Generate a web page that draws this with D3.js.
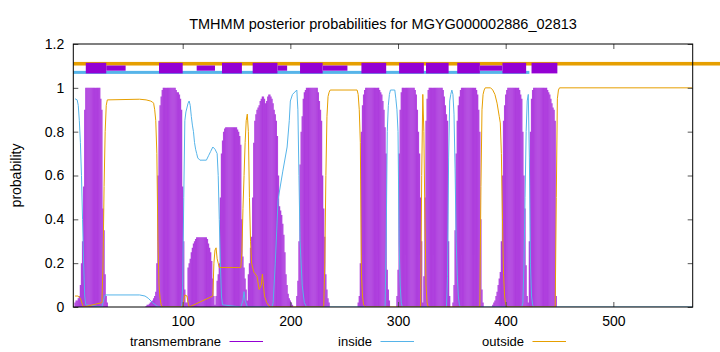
<!DOCTYPE html>
<html>
<head>
<meta charset="utf-8">
<script src="https://cdn.jsdelivr.net/npm/d3@7"></script>
<style>
  body { margin: 0; background: #fff; }
  svg { display: block; font-family: "Liberation Sans", Arial, sans-serif; }
</style>
</head>
<body>
<svg id="chart" width="720" height="352"></svg>
<script>
const title = 'TMHMM posterior probabilities for MGYG000002886_02813';
const seqLength = 573;
const xTicks = [100, 200, 300, 400, 500];
const yTicks = [0, 0.2, 0.4, 0.6, 0.8, 1, 1.2];
const seriesNames = ['transmembrane', 'inside', 'outside'];

// transmembrane posterior, one value per residue, given per helix as [first residue, values]
const tmPeaks = [
    [0, [0.02, 0.03, 0.03, 0.04, 0.05, 0.1, 0.2, 0.3, 0.55, 0.9, 1, 1, 1, 1, 1, 1, 1, 1, 1, 1, 1, 1, 1, 1, 0.95, 0.9, 0.45, 0.35, 0.15, 0.05, 0.02]],
    [66, [0.005, 0.01, 0.01, 0.015, 0.02, 0.025, 0.03, 0.04, 0.05, 0.07, 0.2, 0.6, 0.85, 0.92, 0.96, 0.99, 1, 1, 1, 1, 1, 1, 1, 1, 1, 1, 1, 1, 0.99, 0.98, 0.98, 0.97, 0.95, 0.9, 0.55, 0.3, 0.08, 0.02]],
    [104, [0.02, 0.18, 0.2, 0.22, 0.25, 0.27, 0.29, 0.3, 0.31, 0.318, 0.318, 0.318, 0.318, 0.318, 0.318, 0.318, 0.318, 0.318, 0.318, 0.31, 0.29, 0.27, 0.25, 0.21, 0.13, 0.05, 0.01]],
    [131, [0.05, 0.12, 0.15, 0.2, 0.5, 0.7, 0.76, 0.8, 0.815, 0.82, 0.82, 0.82, 0.82, 0.82, 0.82, 0.82, 0.82, 0.82, 0.82, 0.82, 0.81, 0.8, 0.78, 0.74, 0.4, 0.23, 0.18, 0.13, 0.08, 0.03]],
    [161, [0.15, 0.2, 0.27, 0.32, 0.5, 0.75, 0.85, 0.88, 0.9, 0.91, 0.92, 0.94, 0.95, 0.96, 0.96, 0.95, 0.93, 0.94, 0.96, 0.97, 0.97, 0.96, 0.95, 0.93, 0.9, 0.88, 0.85, 0.78, 0.6, 0.46, 0.44, 0.42, 0.38, 0.33, 0.25, 0.15, 0.1, 0.06, 0.04, 0.03, 0.02, 0.01]],
    [206, [0.05, 0.12, 0.3, 0.65, 0.8, 0.87, 0.95, 0.98, 0.99, 1, 1, 1, 1, 1, 1, 1, 1, 1, 1, 1, 0.98, 0.94, 0.9, 0.85, 0.6, 0.45, 0.32, 0.15, 0.08, 0.04, 0.02]],
    [263, [0.02, 0.05, 0.2, 0.8, 0.92, 0.97, 0.99, 1, 1, 1, 1, 1, 1, 1, 1, 1, 1, 1, 1, 1, 0.99, 0.98, 0.97, 0.94, 0.9, 0.82, 0.7, 0.17, 0.08, 0.03]],
    [299, [0.05, 0.17, 0.7, 0.9, 0.98, 1, 1, 1, 1, 1, 1, 1, 1, 1, 1, 1, 1, 0.99, 0.97, 0.9, 0.8, 0.7, 0.5, 0.3, 0.02]],
    [324, [0.14, 0.5, 0.85, 0.95, 0.99, 1, 1, 1, 1, 1, 1, 1, 1, 1, 1, 1, 1, 1, 0.99, 0.96, 0.92, 0.88, 0.85, 0.3, 0.05]],
    [351, [0.02, 0.1, 0.35, 0.7, 0.85, 0.92, 0.96, 0.99, 1, 1, 1, 1, 1, 1, 1, 1, 1, 1, 1, 1, 1, 1, 0.99, 0.97, 0.9, 0.8, 0.4, 0.08, 0.02]],
    [388, [0.01, 0.02, 0.03, 0.05, 0.07, 0.1, 0.13, 0.16, 0.3, 0.6, 0.85, 0.92, 0.97, 0.99, 1, 1, 1, 1, 1, 1, 1, 1, 1, 1, 1, 0.99, 0.97, 0.95, 0.8, 0.6, 0.45, 0.19, 0.05]],
    [421, [0.02, 0.3, 0.8, 0.95, 0.99, 1, 1, 1, 1, 1, 1, 1, 1, 1, 1, 1, 1, 1, 0.99, 0.98, 0.97, 0.95, 0.93, 0.91, 0.9, 0.85, 0.05]]
];

// inside / outside posterior, [residue, probability]
const insidePts = [
    [0, 0.95], [2, 0.945], [3, 0.92], [4, 0.85], [5, 0.75], [6, 0.6], [7, 0.4], [8, 0.2], [9, 0.05], [10, 0.01],
    [25, 0], [26, 0.02], [27, 0.04], [28, 0.055], [60, 0.055], [65, 0.05], [68, 0.04], [72, 0.02], [76, 0.005], [78, 0],
    [99, 0], [100, 0.1], [101, 0.5], [102, 0.85], [103, 0.89], [105, 0.93], [106, 0.94], [107, 0.92], [108, 0.87],
    [109, 0.83], [110, 0.8], [111, 0.75], [112, 0.72], [113, 0.7], [114, 0.68], [116, 0.67], [122, 0.67], [124, 0.69],
    [126, 0.71], [128, 0.73], [130, 0.72], [132, 0.7], [133, 0.6], [134, 0.4], [135, 0.2], [136, 0.05], [137, 0.01],
    [154, 0], [156, 0.03], [157, 0.07], [158, 0.03], [160, 0], [183, 0], [184, 0.02], [186, 0.2], [188.6, 0.49],
    [193, 0.62], [197, 0.73], [199, 0.85], [200, 0.94], [202, 0.97], [206, 0.99], [207, 0.9], [208, 0.6], [209, 0.3],
    [211, 0.1], [213, 0.02], [215, 0], [288, 0], [289, 0.3], [290, 0.8], [291, 0.92], [292, 0.97], [293, 0.99],
    [297, 0.99], [298, 0.95], [299, 0.9], [300, 0.8], [301, 0.3], [302, 0.1], [303, 0.02], [304, 0], [345, 0],
    [346, 0.14], [347, 0.68], [348, 0.94], [349, 0.97], [350, 0.99], [351, 0.97], [352, 0.88], [353, 0.63], [354, 0.3],
    [355, 0.15], [356, 0.05], [357, 0.01], [358, 0], [415, 0], [416, 0.02], [417, 0.2], [418, 0.5], [419, 0.8],
    [420, 0.94], [421, 0.97], [422, 0.68], [423, 0.2], [424, 0.05], [425, 0.01], [426, 0], [573, 0]
];

const outsidePts = [
    [0, 0.05], [3, 0.05], [5, 0.04], [7, 0.01], [8, 0], [25, 0.02], [26, 0.2], [27, 0.55], [28, 0.8], [29, 0.92],
    [30, 0.945], [60, 0.948], [66, 0.945], [70, 0.94], [72, 0.935], [73, 0.93], [74, 0.9], [75, 0.85], [76, 0.7],
    [77, 0.3], [78, 0.1], [79, 0.04], [80, 0.01], [81, 0], [100, 0], [101, 0.03], [102, 0.055], [104, 0.05],
    [105, 0.02], [106, 0], [128, 0.05], [129, 0.2], [130, 0.26], [131, 0.27], [132, 0.22], [133, 0.2], [134, 0.18],
    [152, 0.18], [154, 0.18], [155, 0.25], [156, 0.45], [157, 0.6], [158, 0.75], [159, 0.85], [160, 0.88], [161, 0.8],
    [162, 0.5], [163, 0.3], [164, 0.2], [166, 0.16], [169, 0.14], [171, 0.08], [173, 0.1], [174, 0.15], [175, 0.1],
    [176, 0.05], [178, 0.02], [181, 0], [231, 0], [232, 0.2], [233, 0.6], [234, 0.87], [235, 0.96], [236, 0.98],
    [237, 0.99], [262, 0.99], [263, 0.97], [264, 0.9], [265, 0.75], [266, 0.15], [267, 0.05], [268, 0.01], [270, 0],
    [321, 0], [322, 0.6], [323, 0.97], [324, 0.8], [325, 0.4], [326, 0.1], [327, 0.02], [328, 0], [376, 0],
    [377, 0.55], [378, 0.9], [379, 0.97], [380, 0.99], [381, 1], [386, 1], [388, 0.99], [390, 0.97], [392, 0.93],
    [394, 0.87], [395, 0.84], [396, 0.7], [397, 0.4], [398, 0.15], [399, 0.05], [400, 0.01], [402, 0], [446, 0],
    [447, 0.5], [448, 0.95], [449, 0.99], [450, 1], [573, 1]
];

// predicted topology bars along the top: [from residue, to residue]
const outsideBar = [[-1.6, 600]];
const insideBar = [[-1.6, 422]];
const tmThinBar = [[29, 47], [113, 130], [188, 197], [230, 253], [376, 397]];
const tmBoxBar = [[10, 29], [78, 100], [136.5, 155], [165, 188], [209, 230], [266, 289], [301, 324], [326, 347], [355, 376], [397, 419], [424, 448]];

const colors = {transmembrane: '#9400d3', inside: '#56b4e9', outside: '#e69f00'};

const margin = {top: 44, right: 27.3, bottom: 45, left: 73.3},
    width = 720 - margin.left - margin.right,
    height = 352 - margin.top - margin.bottom;

const svg = d3.select('#chart');
const g = svg.append('g').attr('transform', 'translate(' + margin.left + ',' + margin.top + ')');

const x = d3.scaleLinear().domain([-1.6, 573.7]).range([0, width]);
const y = d3.scaleLinear().domain([0, 1.2]).range([height, 0]);

g.append('clipPath').attr('id', 'plot-clip')
    .append('rect').attr('width', width).attr('height', height);

const plot = g.append('g').attr('clip-path', 'url(#plot-clip)');

// transmembrane impulses
let impulses = [];
for (let peak of tmPeaks) {
    peak[1].forEach(function (v, i) {
        impulses.push([peak[0] + i, v]);
    });
}
plot.selectAll('line.tm')
    .data(impulses)
    .enter().append('line')
    .attr('class', 'tm')
    .attr('x1', d => x(d[0]))
    .attr('x2', d => x(d[0]))
    .attr('y1', y(0))
    .attr('y2', d => y(d[1]))
    .attr('stroke', colors.transmembrane)
    .attr('stroke-opacity', 0.72)
    .attr('stroke-width', 1.3);

const line = d3.line().x(d => x(d[0])).y(d => y(d[1]));

plot.append('path')
    .datum(insidePts)
    .attr('fill', 'none')
    .attr('stroke', colors.inside)
    .attr('stroke-width', 1)
    .attr('d', line);

plot.append('path')
    .datum(outsidePts)
    .attr('fill', 'none')
    .attr('stroke', colors.outside)
    .attr('stroke-width', 1)
    .attr('d', line);

// topology bars (not clipped, the outside one runs past the frame)
function drawBars(data, level, h, color) {
    g.selectAll(null)
        .data(data)
        .enter().append('rect')
        .attr('x', d => x(d[0]))
        .attr('width', d => x(d[1]) - x(d[0]))
        .attr('y', y(level) - h / 2)
        .attr('height', h)
        .attr('fill', color);
}
drawBars(outsideBar, 1.11, 3.6, colors.outside);
drawBars(insideBar, 1.0705, 3, colors.inside);
drawBars(tmThinBar, 1.09, 5.2, colors.transmembrane);
drawBars(tmBoxBar, 1.09, 10.6, colors.transmembrane);

// axes, ticks pointing inward and mirrored
const yAxis = g.append('g')
    .call(d3.axisLeft(y).tickValues(yTicks).tickSize(-5).tickPadding(9).tickFormat(d3.format('~g')));
const yAxisRight = g.append('g')
    .attr('transform', 'translate(' + width + ',0)')
    .call(d3.axisRight(y).tickValues(yTicks).tickSize(-5).tickFormat(''));
const xAxis = g.append('g')
    .attr('transform', 'translate(0,' + height + ')')
    .call(d3.axisBottom(x).tickValues(xTicks).tickSize(-5).tickPadding(9));
const xAxisTop = g.append('g')
    .call(d3.axisTop(x).tickValues(xTicks).tickSize(-5).tickFormat(''));

for (let a of [yAxis, yAxisRight, xAxis, xAxisTop]) {
    a.select('.domain').remove();
    a.selectAll('.tick line').attr('stroke', '#555');
    a.selectAll('text').attr('font-size', 14).attr('fill', '#000')
        .attr('font-family', '"Liberation Sans", Arial, sans-serif');
}

g.append('rect')
    .attr('width', width)
    .attr('height', height)
    .attr('fill', 'none')
    .attr('stroke', '#000')
    .attr('stroke-width', 1);

svg.append('text')
    .attr('x', margin.left + width / 2)
    .attr('y', 29)
    .attr('text-anchor', 'middle')
    .attr('font-size', 14.5)
    .text(title);

svg.append('text')
    .attr('transform', 'translate(21,' + (margin.top + height / 2) + ') rotate(-90)')
    .attr('text-anchor', 'middle')
    .attr('font-size', 14)
    .text('probability');

// legend below the plot
const legendEnds = [221, 372, 524];
const legend = svg.append('g');
seriesNames.forEach(function (name, i) {
    legend.append('text')
        .attr('x', legendEnds[i])
        .attr('y', 346)
        .attr('text-anchor', 'end')
        .attr('font-size', 13)
        .text(name);
    legend.append('line')
        .attr('x1', legendEnds[i] + 8.5)
        .attr('x2', legendEnds[i] + 42)
        .attr('y1', 341.5)
        .attr('y2', 341.5)
        .attr('stroke', colors[name])
        .attr('stroke-width', 1);
});
</script>
</body>
</html>
